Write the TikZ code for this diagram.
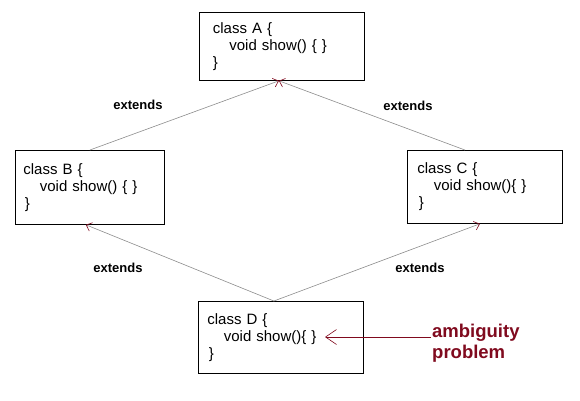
\documentclass[tikz,border=0pt]{standalone}
\usepackage{fontspec}
\setmainfont{Liberation Sans}
\usetikzlibrary{arrows.meta,calc}
\definecolor{ambred}{RGB}{128,10,30}

\begin{document}
\begin{tikzpicture}[x=1pt,y=-1pt,
  every node/.style={font=\fontsize{15}{17}\selectfont},
  cls/.style={draw,thick,minimum height=72pt,align=left,anchor=north west,inner ysep=0pt},
  lbl/.style={font=\bfseries\fontsize{13}{15}\selectfont},
  ext/.style={draw=gray!90,line width=0.6pt,{Straight Barb[length=5pt,width=9pt,color=ambred]}-},
  amb/.style={draw=ambred,line width=0.6pt,-{Straight Barb[length=11pt,width=15pt]}}]
\useasboundingbox (0,0) rectangle (580,400);
% class boxes
\node[cls,minimum width=165pt,text width=138pt,inner xsep=13pt,minimum height=68pt] (A) at (199,12)
  {class A \{\\\hspace*{1.1em}void show() \{ \}\\\}};
\node[cls,minimum width=149pt,text width=133pt,inner xsep=8pt,minimum height=74pt] (B) at (15,150)
  {class B \{\\\hspace*{1.1em}void show() \{ \}\\\hspace*{0.1em}\}};
\node[cls,minimum width=155pt,text width=135pt,inner xsep=10pt,minimum height=73pt] (C) at (407,150)
  {class C \{\\\hspace*{1.1em}void show()\{ \}\\\hspace*{0.1em}\}};
\node[cls,minimum width=165pt,text width=147pt,inner xsep=9pt] (D) at (198,301)
  {class D \{\\\hspace*{1.1em}void show()\{ \}\\\hspace*{0.1em}\}};
% labels
\node[lbl] (e1) at (138,105) {extends};
\node[lbl] (e2) at (408,106) {extends};
\node[lbl] (e3) at (118,268) {extends};
\node[lbl] (e4) at (420,268) {extends};
\node[font=\bfseries\fontsize{18.5}{21}\selectfont,text=ambred,align=left,anchor=west,inner xsep=1pt] (prob) at (431,343) {ambiguity\\problem};
% inheritance
\draw[ext] ([xshift=-3pt]A.south) -- (B.north);
\draw[ext] ([xshift=-3pt]A.south) -- ([xshift=-20pt]C.north);
\draw[ext] ([xshift=-4pt]B.south) -- ([xshift=-7pt]D.north);
\draw[ext] ([xshift=-5pt]C.south) -- ([xshift=-7pt]D.north);
\coordinate (tip) at (325,337);
\draw[amb] (prob.west |- tip) -- (tip);
\end{tikzpicture}
\end{document}
